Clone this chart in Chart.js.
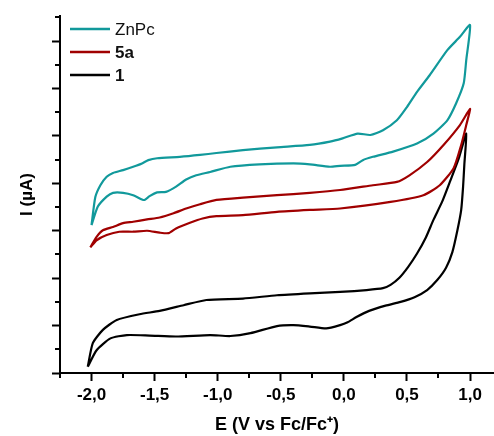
<!DOCTYPE html>
<html>
<head>
<meta charset="utf-8">
<script src="https://cdn.jsdelivr.net/npm/chart.js@4.4.1/dist/chart.umd.min.js"></script>
<style>
  html, body { margin: 0; padding: 0; background: #fff; }
  #wrap { width: 494px; height: 436px; }
</style>
</head>
<body>
<div id="wrap"><canvas id="cv" width="494" height="436"></canvas></div>
<script>
// --- data ---
// each loop starts at the -2.0 V vertex, goes out along the upper branch and comes back along the lower one
const seriesNames = ['ZnPc', '5a', '1'];

const znpcE = [-2.00, -1.97, -1.93, -1.88, -1.83, -1.75, -1.67, -1.60, -1.55, -1.48, -1.30, -1.14, -1.01, -0.80, -0.53, -0.27, -0.11, -0.01, 0.11, 0.21, 0.31, 0.42, 0.50, 0.58, 0.68, 0.82, 0.92, 1.00,
               0.97, 0.95, 0.89, 0.82, 0.71, 0.58, 0.39, 0.23, 0.15, 0.09, -0.03, -0.11, -0.27, -0.40, -0.67, -0.90, -1.06, -1.17, -1.25, -1.33, -1.41, -1.48, -1.54, -1.58, -1.60, -1.67, -1.75, -1.83, -1.88, -1.95, -2.00];
const znpcI = [3.12, 3.71, 3.96, 4.14, 4.22, 4.28, 4.35, 4.42, 4.49, 4.53, 4.56, 4.60, 4.64, 4.70, 4.76, 4.81, 4.88, 4.95, 5.05, 5.02, 5.12, 5.33, 5.61, 5.93, 6.28, 6.81, 7.09, 7.34,
               6.60, 6.11, 5.69, 5.33, 5.05, 4.84, 4.67, 4.56, 4.49, 4.39, 4.37, 4.35, 4.40, 4.42, 4.40, 4.35, 4.24, 4.17, 4.08, 3.93, 3.82, 3.81, 3.73, 3.65, 3.66, 3.75, 3.80, 3.80, 3.72, 3.51, 3.12];

const e5aE = [-2.01, -1.96, -1.91, -1.83, -1.75, -1.67, -1.56, -1.46, -1.35, -1.25, -1.14, -1.01, -0.80, -0.53, -0.27, -0.03, 0.23, 0.42, 0.52, 0.66, 0.79, 0.92, 1.00,
              0.97, 0.93, 0.87, 0.76, 0.63, 0.37, -0.03, -0.27, -0.53, -0.80, -1.01, -1.12, -1.22, -1.33, -1.39, -1.46, -1.56, -1.67, -1.78, -1.88, -1.96, -2.01];
const e5aI = [2.65, 2.87, 3.01, 3.08, 3.16, 3.19, 3.24, 3.28, 3.37, 3.47, 3.56, 3.65, 3.70, 3.75, 3.80, 3.86, 3.96, 4.03, 4.17, 4.45, 4.81, 5.23, 5.57,
              5.23, 4.81, 4.32, 3.96, 3.75, 3.61, 3.47, 3.44, 3.40, 3.33, 3.31, 3.26, 3.17, 3.05, 2.95, 2.96, 3.00, 2.98, 2.98, 2.91, 2.80, 2.65];

const cmp1E = [-2.03, -1.99, -1.91, -1.80, -1.62, -1.46, -1.27, -1.09, -0.80, -0.53, -0.27, -0.03, 0.18, 0.31, 0.37, 0.44, 0.51, 0.58, 0.65, 0.71, 0.78, 0.84, 0.91, 0.97,
               0.955, 0.945, 0.93, 0.90, 0.86, 0.81, 0.74, 0.66, 0.56, 0.45, 0.33, 0.20, 0.10, 0.03, -0.03, -0.14, -0.27, -0.40, -0.53, -0.74, -0.90, -1.06, -1.33, -1.54, -1.72, -1.85, -1.96, -2.03];
const cmp1I = [0.13, 0.63, 0.91, 1.12, 1.24, 1.31, 1.43, 1.54, 1.57, 1.64, 1.68, 1.71, 1.75, 1.79, 1.86, 2.01, 2.24, 2.52, 2.86, 3.23, 3.62, 4.03, 4.52, 5.05,
               4.40, 3.93, 3.44, 3.01, 2.55, 2.22, 1.96, 1.75, 1.60, 1.50, 1.42, 1.31, 1.18, 1.07, 1.01, 0.94, 0.98, 1.01, 0.99, 0.84, 0.78, 0.80, 0.77, 0.79, 0.80, 0.73, 0.48, 0.13];

const xTicks = [-2.0, -1.5, -1.0, -0.5, 0.0, 0.5, 1.0];
const xMinorTicks = [-2.25, -1.75, -1.25, -0.75, -0.25, 0.25, 0.75];
const yTicks = [0, 1, 2, 3, 4, 5, 6, 7];
const yMinorTicks = [0.5, 1.5, 2.5, 3.5, 4.5, 5.5, 6.5, 7.5];

const toPoints = (es, is) => es.map((e, i) => ({ x: e, y: is[i] }));

const FONT = '"Liberation Sans", Arial, sans-serif';

// short ticks between the labelled ones
const minorTicks = {
    id: 'minorTicks',
    afterDraw(chart) {
        const { ctx, scales: { x, y } } = chart;
        ctx.save();
        ctx.strokeStyle = '#000';
        ctx.lineWidth = 2;
        ctx.beginPath();
        xMinorTicks.forEach(v => {
            const px = Math.round(x.getPixelForValue(v));
            ctx.moveTo(px, x.top);
            ctx.lineTo(px, x.top + 5);
        });
        yMinorTicks.forEach(v => {
            const py = Math.round(y.getPixelForValue(v));
            ctx.moveTo(y.right, py);
            ctx.lineTo(y.right - 5, py);
        });
        ctx.stroke();
        ctx.restore();
    }
};

// legend in the upper left corner, "5a" and "1" in bold
const cornerLegend = {
    id: 'cornerLegend',
    afterDatasetsDraw(chart, args, opts) {
        const { ctx, chartArea } = chart;
        chart.data.datasets.forEach((ds, i) => {
            const yy = chartArea.top + 13 + i * 23;
            const x0 = chartArea.left + 10;
            ctx.save();
            ctx.strokeStyle = ds.borderColor;
            ctx.lineWidth = 2.5;
            ctx.beginPath();
            ctx.moveTo(x0, yy);
            ctx.lineTo(x0 + 40, yy);
            ctx.stroke();
            ctx.fillStyle = '#111';
            ctx.font = `${opts.weights[i]} 17px ${FONT}`;
            ctx.textBaseline = 'middle';
            ctx.fillText(ds.label, x0 + 45, yy + 1);
            ctx.restore();
        });
    }
};

new Chart(document.getElementById('cv'), {
    type: 'line',
    data: {
        datasets: [
            { label: seriesNames[0], data: toPoints(znpcE, znpcI), borderColor: '#11999b' },
            { label: seriesNames[1], data: toPoints(e5aE, e5aI), borderColor: '#a00000' },
            { label: seriesNames[2], data: toPoints(cmp1E, cmp1I), borderColor: '#000000' }
        ]
    },
    options: {
        responsive: false,
        devicePixelRatio: 1,
        animation: false,
        layout: { padding: { top: 16, right: 0, left: 0, bottom: 0 } },
        elements: {
            point: { radius: 0 },
            line: { borderWidth: 2.2, tension: 0.2 }
        },
        plugins: {
            legend: { display: false },
            tooltip: { enabled: false },
            cornerLegend: { weights: ['normal', 'bold', 'bold'] }
        },
        scales: {
            x: {
                type: 'linear',
                min: -2.25,
                max: 1.19,
                afterBuildTicks: s => { s.ticks = xTicks.map(v => ({ value: v })); },
                afterFit: s => { s.height = 63; },
                border: { color: '#000', width: 2 },
                grid: { drawOnChartArea: false, tickLength: 8, tickWidth: 2, tickColor: '#000' },
                ticks: {
                    color: '#000',
                    padding: 4,
                    maxRotation: 0,
                    font: { family: FONT, size: 17, weight: 'bold' },
                    callback: v => v.toFixed(1).replace('.', ',')
                },
                title: {
                    display: true,
                    text: 'E (V vs Fc/Fc\u207A)',
                    color: '#000',
                    padding: { top: 0, bottom: 0 },
                    font: { family: FONT, size: 18, weight: 'bold' }
                }
            },
            y: {
                type: 'linear',
                min: 0,
                max: 7.53,
                afterBuildTicks: s => { s.ticks = yTicks.map(v => ({ value: v })); },
                afterFit: s => { s.width = 60; },
                border: { color: '#000', width: 2 },
                grid: { drawOnChartArea: false, tickLength: 8, tickWidth: 2, tickColor: '#000' },
                ticks: { display: false },
                title: {
                    display: true,
                    text: 'I (\u00B5A)',
                    color: '#000',
                    padding: { top: 17, bottom: 0 },
                    font: { family: FONT, size: 17, weight: 'bold' }
                }
            }
        }
    },
    plugins: [minorTicks, cornerLegend]
});
</script>
</body>
</html>
